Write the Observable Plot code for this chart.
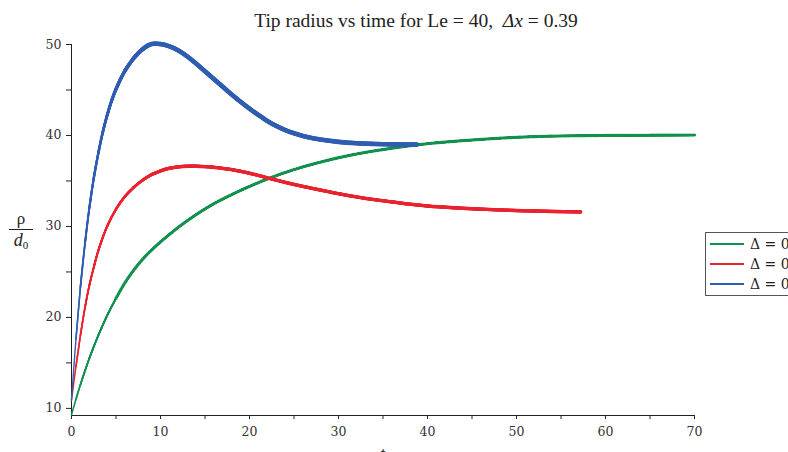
<!DOCTYPE html>
<html>
<head>
<meta charset="utf-8">
<script src="https://cdn.jsdelivr.net/npm/d3@7"></script>
<script src="https://cdn.jsdelivr.net/npm/@observablehq/plot@0.6"></script>
<style>
  html, body { margin: 0; padding: 0; overflow: hidden; background: #fff; }
  #wrap { position: relative; width: 788px; height: 452px; overflow: hidden; font-family: "Liberation Serif", "DejaVu Serif", serif; color: #222; }
  #title { position: absolute; left: 0; top: 10px; width: 832px; text-align: center; font-size: 19.5px; white-space: nowrap; }
  #chart { position: absolute; left: 0; top: 36px; }
  #ylab { position: absolute; left: 9px; top: 211px; width: 24px; text-align: center; font-size: 17px; line-height: 16px; }
  #ylab .num { border-bottom: 1px solid #222; padding-bottom: 2px; }
  #ylab .den { padding-top: 2px; font-size: 18px; }
  #ylab sub { font-size: 11px; vertical-align: -3px; font-style: normal; }
  #xlab { position: absolute; left: 380px; top: 444px; font-size: 18px; font-style: italic; }
  #legend { position: absolute; left: 705px; top: 232px; width: 130px; height: 62px; border: 1px solid #555; background: #fff; }
  #legend .row { position: absolute; left: 3px; height: 20px; display: flex; align-items: center; font-family: "DejaVu Serif", serif; font-size: 14px; white-space: nowrap; }
  #legend svg { margin-right: 5px; }
</style>
</head>
<body>
<div id="wrap">
  <div id="title">Tip radius vs time for Le = 40,&nbsp; <i>Δx</i> = 0.39</div>
  <div id="chart"></div>
  <div id="ylab"><div class="num">ρ</div><div class="den"><i>d</i><sub>0</sub></div></div>
  <div id="xlab">t</div>
  <div id="legend"></div>
</div>
<script>
// Tip radius rho/d0 against time t for three undercoolings
const seriesNames = ["Δ = 0.45", "Δ = 0.5", "Δ = 0.55"];
const seriesColors = ["#12904f", "#e8222f", "#2e5cb0"];

const greenT = [0, 0.5, 1, 2, 3, 4, 5, 6, 7, 8, 9, 10, 12, 14, 16, 18, 20, 22.5, 25, 27.5, 30, 32.5, 35, 37.5, 40, 45, 50, 55, 60, 70];
const greenV = [9.3, 11.0, 12.6, 15.5, 18.0, 20.2, 22.1, 23.8, 25.2, 26.4, 27.4, 28.3, 29.9, 31.3, 32.5, 33.5, 34.4, 35.4, 36.25, 36.95, 37.55, 38.05, 38.45, 38.8, 39.1, 39.5, 39.8, 39.95, 40.0, 40.05];

const redT = [0, 0.5, 1, 1.5, 2, 2.5, 3, 4, 5, 6, 7, 8, 9, 10, 11, 12, 13, 14, 15, 16, 18, 20, 22, 24, 26, 28, 30, 32, 34, 36, 38, 40, 43, 46, 50, 54, 57.2];
const redV = [10.9, 14.6, 18.0, 21.0, 23.5, 25.5, 27.3, 30.0, 31.9, 33.3, 34.3, 35.1, 35.7, 36.1, 36.4, 36.55, 36.62, 36.62, 36.58, 36.5, 36.25, 35.85, 35.35, 34.85, 34.4, 34.0, 33.6, 33.25, 32.95, 32.7, 32.45, 32.25, 32.05, 31.9, 31.75, 31.65, 31.6];

const blueT = [0, 0.5, 1, 1.5, 2, 2.5, 3, 3.5, 4, 4.5, 5, 6, 7, 8, 9, 10, 11, 12, 13, 14, 15, 16, 17, 18, 19, 20, 21, 22, 23, 24, 25, 26, 27, 28, 30, 32, 34, 36, 38.8];
const blueV = [10.9, 17.6, 23.3, 28.0, 32.0, 35.3, 38.0, 40.3, 42.2, 43.8, 45.1, 47.1, 48.5, 49.5, 50.05, 50.05, 49.8, 49.35, 48.7, 47.9, 47.05, 46.2, 45.35, 44.5, 43.7, 42.95, 42.25, 41.6, 41.05, 40.6, 40.25, 39.95, 39.72, 39.55, 39.3, 39.15, 39.07, 39.02, 39.0];

const xDomain = [0, 70];
const yDomain = [9.22, 50];
const xMajor = [0, 10, 20, 30, 40, 50, 60, 70];
const xMinor = [5, 15, 25, 35, 45, 55, 65];
const yMajor = [10, 20, 30, 40, 50];
const yMinor = [15, 25, 35, 45];

const rows = (T, V) => T.map((t, i) => ({t, v: V[i]}));
const series = [rows(greenT, greenV), rows(redT, redV), rows(blueT, blueV)];

// Each oscillating solution reads as a band that widens as time goes on:
// stroke width grows from w0 to w1 over t in [0, tFull].
const bandWidth = [
  {w0: 1.6, w1: 2.0, tFull: 10},
  {w0: 1.5, w1: 3.4, tFull: 10},
  {w0: 1.4, w1: 4.6, tFull: 8}
];

function bandLayers(data, k) {
  const {w0, w1, tFull} = bandWidth[k];
  return data.filter(d => d.t <= tFull).map(({t: t0}) =>
    Plot.line(data.filter(d => d.t >= t0), {
      x: "t", y: "v", stroke: seriesColors[k],
      strokeWidth: w0 + (w1 - w0) * (t0 / tFull),
      strokeLinecap: "round", strokeLinejoin: "round", curve: "catmull-rom"
    })
  );
}

// fine sawtooth texture on the slowest solution
const sawtooth = Plot.line(series[0].filter(d => d.t >= 5), {
  x: "t", y: "v", stroke: seriesColors[0], strokeWidth: 3.2, strokeOpacity: 0.85,
  strokeDasharray: "0.8 1.7", curve: "catmull-rom"
});

const axisStyle = {stroke: "#222"};
const chart = Plot.plot({
  width: 788,
  height: 430,
  marginTop: 8,
  marginBottom: 51,
  marginLeft: 71,
  marginRight: 94,
  style: {fontFamily: "'DejaVu Serif', serif", fontSize: "12.5px", color: "#333", background: "transparent"},
  x: {domain: xDomain, axis: null},
  y: {domain: yDomain, axis: null},
  marks: [
    Plot.axisX(xMajor, {tickSize: 4, tickPadding: 8, label: null, ...axisStyle}),
    Plot.axisX(xMinor, {tickSize: 4, tickFormat: () => "", label: null, ...axisStyle}),
    Plot.axisY(yMajor, {tickSize: 5, tickPadding: 5, label: null, ...axisStyle}),
    Plot.axisY(yMinor, {tickSize: 5, tickFormat: () => "", label: null, ...axisStyle}),
    Plot.ruleX([xDomain[0]], {stroke: "#222"}),
    Plot.ruleY([yDomain[0]], {stroke: "#222"}),
    ...bandLayers(series[0], 0),
    sawtooth,
    ...bandLayers(series[1], 1),
    ...bandLayers(series[2], 2)
  ]
});
document.getElementById("chart").appendChild(chart);

// legend entries
const legend = document.getElementById("legend");
seriesNames.forEach((name, k) => {
  const row = document.createElement("div");
  row.className = "row";
  row.style.top = (1 + k * 20) + "px";
  row.innerHTML = `<svg width="36" height="4"><line x1="1" y1="2" x2="35" y2="2" stroke="${seriesColors[k]}" stroke-width="2"/></svg><span>${name}</span>`;
  legend.appendChild(row);
});
</script>
</body>
</html>
